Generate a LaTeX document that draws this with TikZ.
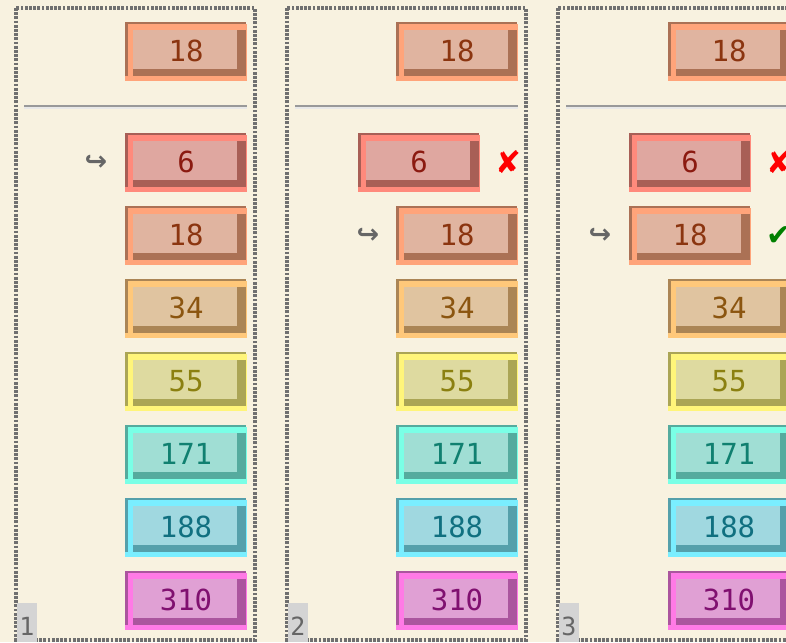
\documentclass[tikz,border=0pt]{standalone}
\usepackage{fontspec}
\newfontfamily\numfont{DejaVu Sans Mono}
\newfontfamily\symfont{DejaVu Sans}
\definecolor{bgc}{HTML}{F8F2E0}
\definecolor{framec}{HTML}{707070}
\definecolor{L6}{HTML}{FF8A7C}\definecolor{D6}{HTML}{A85F56}\definecolor{F6}{HTML}{DFA7A0}\definecolor{T6}{HTML}{8B1A10}
\definecolor{L18}{HTML}{FFA47A}\definecolor{D18}{HTML}{AB7155}\definecolor{F18}{HTML}{E0B4A0}\definecolor{T18}{HTML}{8B3510}
\definecolor{L34}{HTML}{FFC87A}\definecolor{D34}{HTML}{AB8555}\definecolor{F34}{HTML}{E0C4A0}\definecolor{T34}{HTML}{8B5510}
\definecolor{L55}{HTML}{FFF57A}\definecolor{D55}{HTML}{ABA555}\definecolor{F55}{HTML}{DEDAA0}\definecolor{T55}{HTML}{8B8010}
\definecolor{L171}{HTML}{7AFFE6}\definecolor{D171}{HTML}{55AB9E}\definecolor{F171}{HTML}{A0DED4}\definecolor{T171}{HTML}{108070}
\definecolor{L188}{HTML}{7AEEFF}\definecolor{D188}{HTML}{55A0AB}\definecolor{F188}{HTML}{A0D8E0}\definecolor{T188}{HTML}{107080}
\definecolor{L310}{HTML}{FF7AE6}\definecolor{D310}{HTML}{AB559E}\definecolor{F310}{HTML}{E0A0D4}\definecolor{T310}{HTML}{801070}
\tikzset{
  numtxt/.style={inner sep=0pt, font=\numfont\fontsize{29}{31}\selectfont},
  panelframe/.style={draw=framec, line width=3.2pt, dash pattern=on 2.8pt off 1.4pt},
  sepline/.style={draw=black!40, line width=2pt},
  seplight/.style={draw=black!9, line width=2pt},
  tagbox/.style={fill=black!17, draw=none},
  tagtxt/.style={inner sep=0pt, text=black!60, font=\numfont\fontsize{25}{27}\selectfont},
  hookmark/.style={inner sep=0pt, text=black!60, font=\symfont\bfseries\fontsize{27}{29}\selectfont},
  crossmark/.style={inner sep=0pt, text=red, font=\symfont\fontsize{31}{33}\selectfont},
  checkmark/.style={inner sep=0pt, text=green!50!black, font=\symfont\fontsize{30}{32}\selectfont},
}
\newcommand\numbox[4]{%
  \begin{scope}[shift={(#2,#3)}]
    \fill[L#4] (0,2) rectangle (122,59);
    \fill[D#4] (0,0) rectangle (121,54);
    \fill[L#4] (3,2) rectangle (122,8);
    \fill[L#4] (3,5) rectangle (8,54);
    \fill[F#4] (8,8) rectangle (112,47);
    \node[numtxt, text=T#4] (#1) at (61,29) {#4};
  \end{scope}}
\begin{document}
\begin{tikzpicture}[x=1pt,y=-1pt]
\useasboundingbox (0,0) rectangle (786,642);
\clip (0,0) rectangle (786,642);
\fill[bgc] (0,0) rectangle (786,642);
% panel frames
\foreach \px in {0,271,542}{
  \draw[panelframe] (16+\px,8) rectangle (255+\px,640);
  \draw[seplight] (24+\px,108) -- (247+\px,108);
  \draw[sepline] (24+\px,106) -- (247+\px,106);
}
% panel 1
\numbox{atop}{125}{22}{18}
\numbox{asix}{125}{133}{6}
\numbox{aeig}{125}{206}{18}
\numbox{athi}{125}{279}{34}
\numbox{afif}{125}{352}{55}
\numbox{aone}{125}{425}{171}
\numbox{aoen}{125}{498}{188}
\numbox{athr}{125}{571}{310}
\node[hookmark] (ahook) at (96,163) {↪};
% panel 2
\numbox{btop}{396}{22}{18}
\numbox{bsix}{358}{133}{6}
\numbox{beig}{396}{206}{18}
\numbox{bthi}{396}{279}{34}
\numbox{bfif}{396}{352}{55}
\numbox{bone}{396}{425}{171}
\numbox{boen}{396}{498}{188}
\numbox{bthr}{396}{571}{310}
\node[crossmark] (bcross) at (508,162) {✘};
\node[hookmark] (bhook) at (368,236) {↪};
% panel 3
\numbox{ctop}{668}{22}{18}
\numbox{csix}{629}{133}{6}
\numbox{ceig}{629}{206}{18}
\numbox{cthi}{668}{279}{34}
\numbox{cfif}{668}{352}{55}
\numbox{cone}{668}{425}{171}
\numbox{coen}{668}{498}{188}
\numbox{cthr}{668}{571}{310}
\node[crossmark] (ccross) at (779,162) {✘};
\node[checkmark] (ccheck) at (779,236) {✔};
\node[hookmark] (chook) at (600,236) {↪};
% tags
\foreach \px/\t in {0/1,271/2,542/3}{
  \fill[tagbox] (17+\px,603) rectangle (37+\px,642);
  \node[tagtxt] (tag\t) at (27+\px,626) {\t};
}
\end{tikzpicture}
\end{document}
